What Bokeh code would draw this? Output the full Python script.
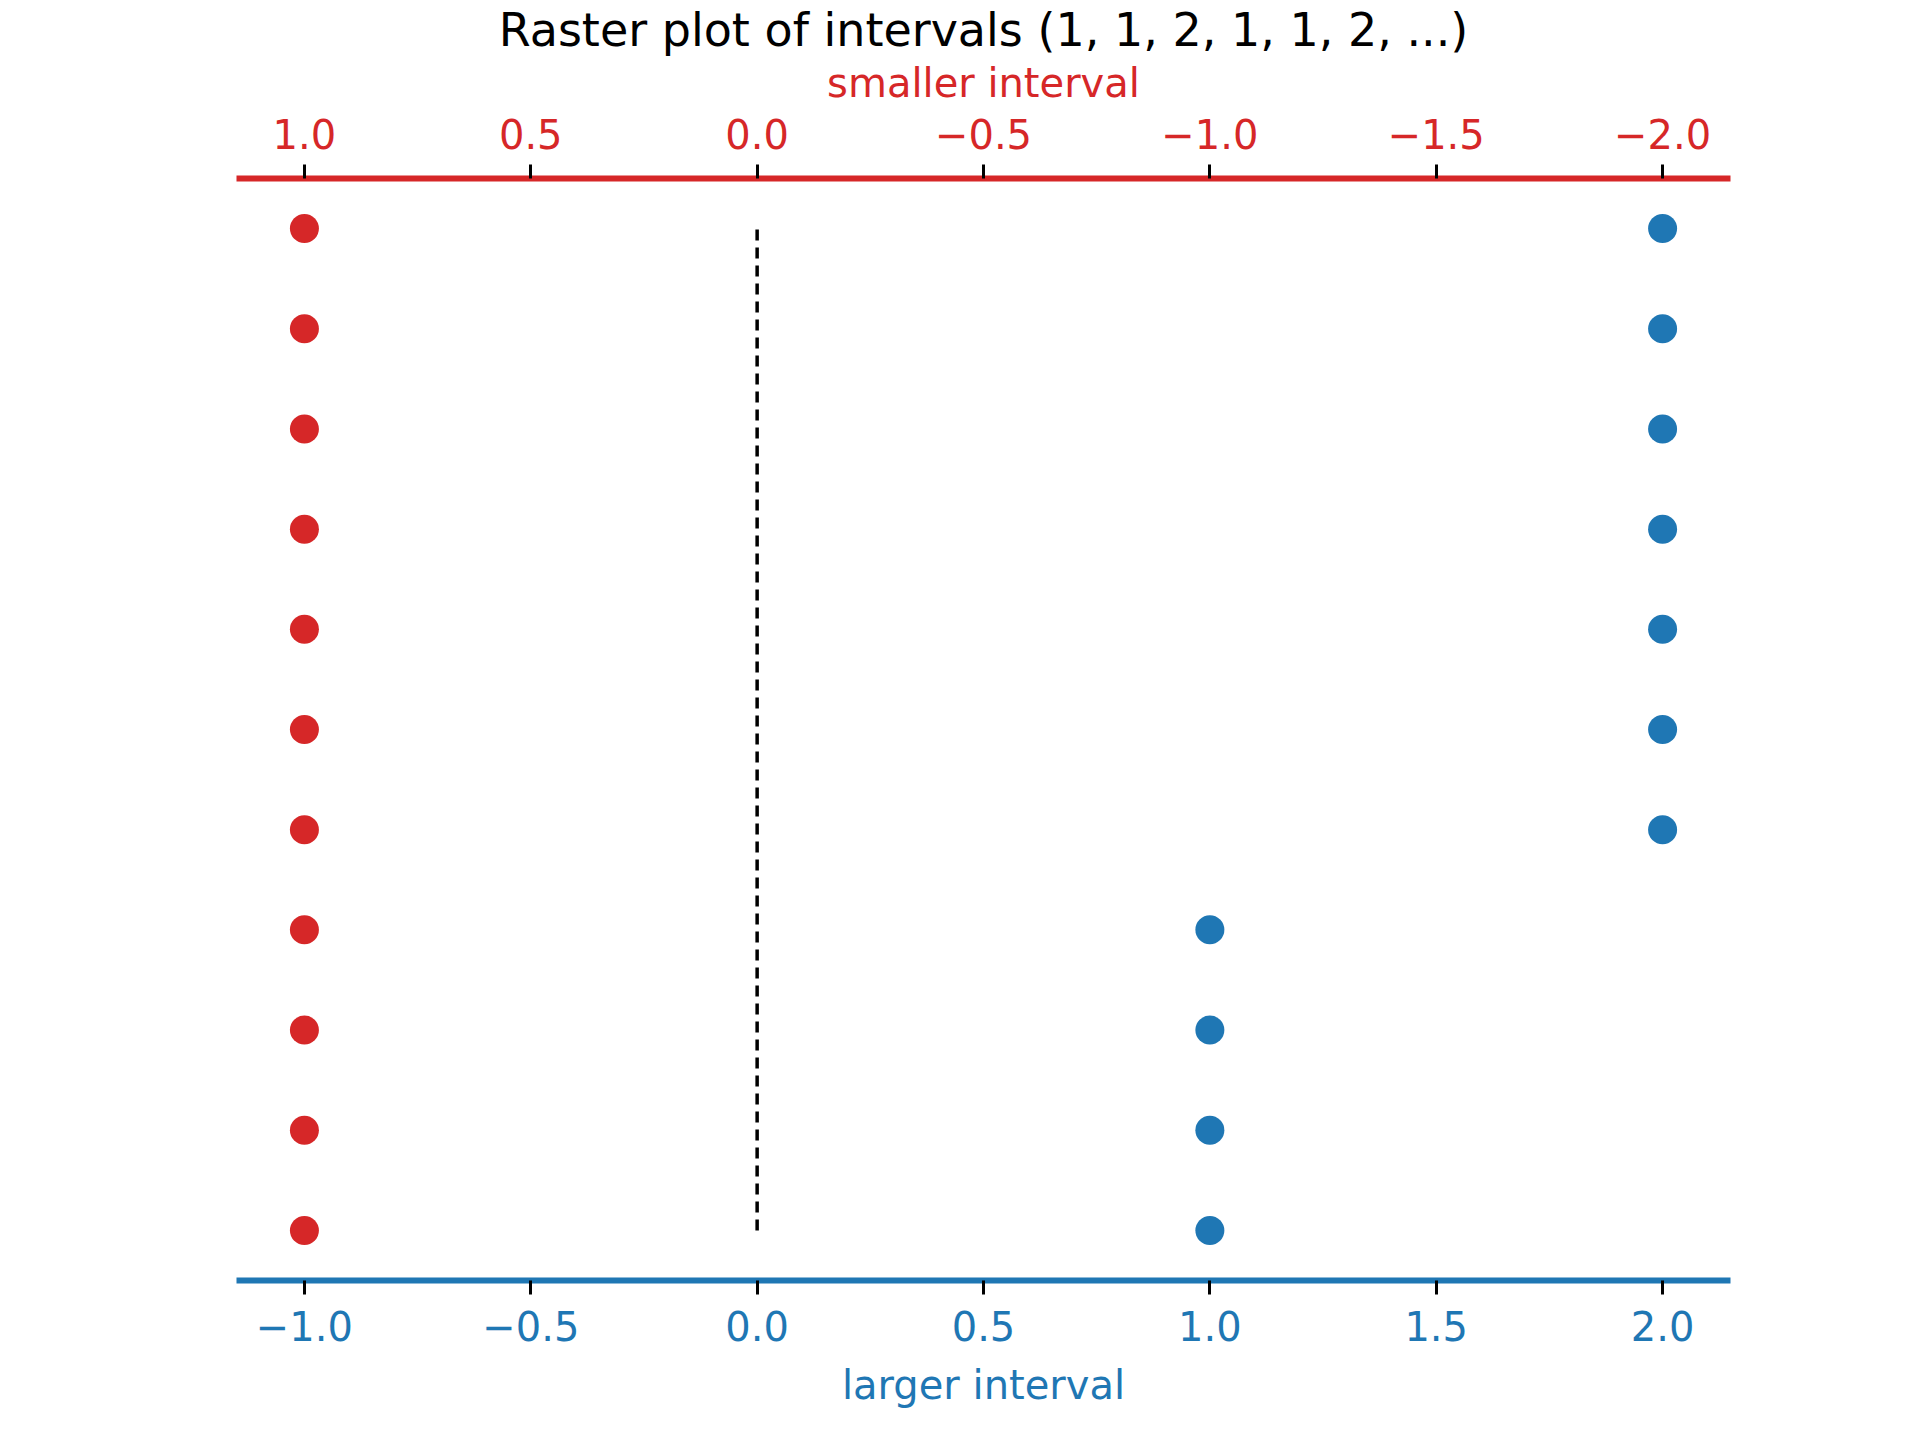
from bokeh.plotting import figure
from bokeh.models import Range1d, LinearAxis, FixedTicker, CustomJSTickFormatter
from bokeh.embed import file_html
from bokeh.resources import INLINE

rows = list(range(11))
smaller_x = [-1] * 11
larger_x = [1, 1, 1, 1, 2, 2, 2, 2, 2, 2, 2]
ticks_bottom = [-1.0, -0.5, 0.0, 0.5, 1.0, 1.5, 2.0]
ticks_top = [1.0, 0.5, 0.0, -0.5, -1.0, -1.5, -2.0]

RED = "#d62728"
BLUE = "#1f77b4"
FONT = "DejaVu Sans"

p = figure(width=1904, height=1420, output_backend="svg", toolbar_location=None,
           x_range=Range1d(-1.15, 2.15), y_range=Range1d(-0.5, 10.5),
           x_axis_location=None, y_axis_location=None,
           min_border_left=236, min_border_right=174, min_border_top=160, min_border_bottom=140)
p.outline_line_color = None
p.grid.visible = False
p.title.text = "Raster plot of intervals (1, 1, 2, 1, 1, 2, ...)"
p.title.text_font = FONT
p.title.text_font_size = "46px"
p.title.text_font_style = "normal"
p.title.text_color = "black"
p.title.align = "center"
p.title.offset = 0
p.title.standoff = 0

p.extra_x_ranges = {"top": Range1d(1.15, -2.15)}

fmt = "return tick.toFixed(1).replace('-', '\\u2212');"

def style(ax, color, ticks):
    ax.ticker = FixedTicker(ticks=ticks)
    ax.formatter = CustomJSTickFormatter(code=fmt)
    ax.axis_line_color = color
    ax.axis_line_width = 6
    ax.major_tick_line_color = "black"
    ax.major_tick_line_width = 3
    ax.major_tick_out = 14
    ax.major_tick_in = 0
    ax.minor_tick_line_color = None
    ax.major_label_text_color = color
    ax.major_label_text_font = FONT
    ax.major_label_text_font_size = "40px"
    ax.axis_label_text_color = color
    ax.axis_label_text_font = FONT
    ax.axis_label_text_font_size = "40px"
    ax.axis_label_text_font_style = "normal"
    ax.major_label_standoff = 16
    ax.axis_label_standoff = 18

bottom = LinearAxis(axis_label="larger interval")
style(bottom, BLUE, ticks_bottom)
p.add_layout(bottom, "below")
top = LinearAxis(axis_label="smaller interval", x_range_name="top")
style(top, RED, ticks_top)
top.axis_label_standoff = 10
p.add_layout(top, "above")

p.line(x=[0, 0], y=[rows[0], rows[-1]], line_color="black", line_width=3.5, line_dash="11 7")
p.scatter(x=smaller_x, y=rows, size=29, color=RED, line_color=None)
p.scatter(x=larger_x, y=rows, size=29, color=BLUE, line_color=None)

open("out.html", "w").write(file_html(p, INLINE))
